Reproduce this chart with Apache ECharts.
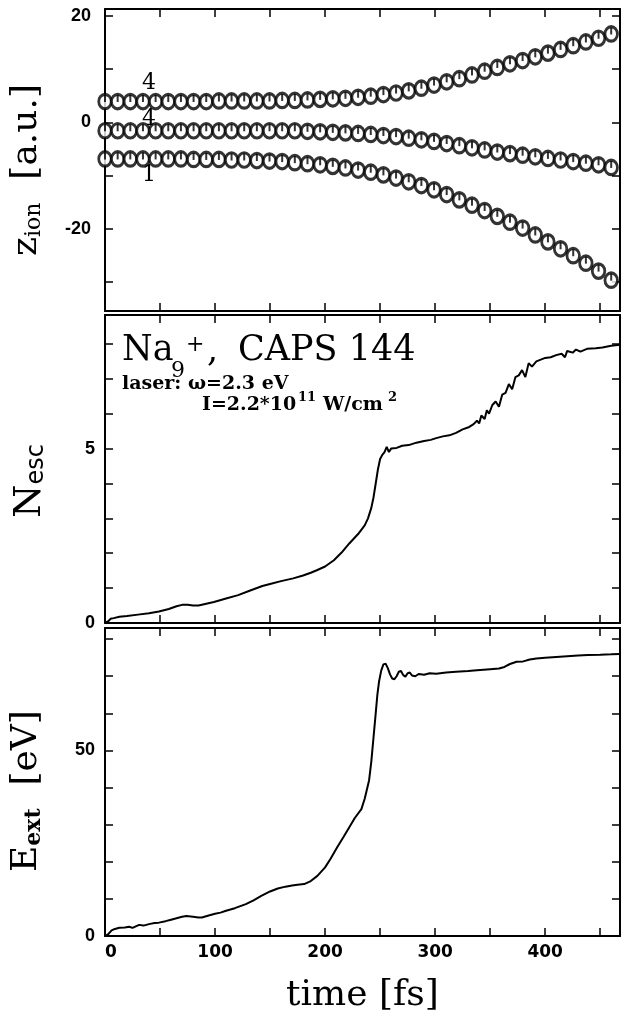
<!DOCTYPE html>
<html><head><meta charset="utf-8">
<script src="https://cdn.jsdelivr.net/npm/echarts@6/dist/echarts.min.js"></script>
<style>html,body{margin:0;padding:0;background:#fff}#c{width:622px;height:1015px}</style>
</head><body><div id="c"></div>
<script>
// ---- data ----
const ionTime = [0, 11.5, 23, 34.5, 46, 57.5, 69, 80.5, 92, 103.5, 115, 126.5, 138, 149.5, 161, 172.5, 184, 195.5, 207, 218.5, 230, 241.5, 253, 264.5, 276, 287.5, 299, 310.5, 322, 333.5, 345, 356.5, 368, 379.5, 391, 402.5, 414, 425.5, 437, 448.5, 460];
const ionUpper = [3.9, 3.9, 3.9, 3.9, 3.9, 3.9, 3.9, 3.9, 3.9, 4.0, 4.0, 4.0, 4.0, 4.0, 4.1, 4.1, 4.2, 4.3, 4.4, 4.5, 4.7, 4.9, 5.2, 5.5, 5.9, 6.4, 7.0, 7.6, 8.2, 8.9, 9.6, 10.3, 11.0, 11.6, 12.3, 13.0, 13.7, 14.4, 15.1, 15.8, 16.6];
const ionMiddle = [-1.6, -1.6, -1.6, -1.6, -1.6, -1.6, -1.6, -1.6, -1.6, -1.6, -1.6, -1.6, -1.6, -1.6, -1.6, -1.6, -1.7, -1.8, -1.9, -2.0, -2.1, -2.3, -2.5, -2.7, -3.0, -3.3, -3.6, -4.0, -4.4, -4.8, -5.2, -5.6, -5.9, -6.2, -6.5, -6.8, -7.1, -7.4, -7.7, -8.0, -8.5];
const ionLower = [-6.9, -6.9, -6.9, -6.9, -6.9, -6.9, -6.9, -7.0, -7.0, -7.0, -7.1, -7.1, -7.2, -7.3, -7.4, -7.6, -7.8, -8.0, -8.3, -8.6, -9.0, -9.4, -9.9, -10.5, -11.2, -11.9, -12.7, -13.6, -14.6, -15.6, -16.6, -17.7, -18.8, -19.9, -21.2, -22.5, -23.8, -25.1, -26.5, -28.0, -29.7];

const escTime = [0, 3, 5, 8, 13, 20, 30, 40, 49, 58, 65, 70, 75, 80, 85, 92, 99, 110, 121, 132, 143, 150, 160, 171, 180, 187, 193, 200, 208, 215, 222, 230, 236, 239, 242, 244, 246, 248, 250, 252, 254, 256, 258, 260, 265, 270, 276, 283, 290, 296, 301, 307, 313, 319, 325, 331, 335, 338, 340, 342, 345, 347, 349, 352, 355, 358, 361, 364, 367, 370, 373, 376, 379, 382, 385, 388, 392, 396, 400, 405, 410, 415, 418, 420, 425, 428, 432, 438, 446, 452, 460, 468];
const escValue = [0, 0.05, 0.12, 0.14, 0.18, 0.2, 0.24, 0.28, 0.33, 0.4, 0.48, 0.52, 0.52, 0.5, 0.5, 0.55, 0.6, 0.7, 0.8, 0.93, 1.06, 1.12, 1.2, 1.28, 1.36, 1.44, 1.52, 1.62, 1.8, 2.02, 2.28, 2.55, 2.8, 3.0, 3.3, 3.6, 4.0, 4.4, 4.7, 4.82, 4.9, 5.05, 4.9, 5.0, 5.02, 5.08, 5.1, 5.17, 5.22, 5.25, 5.3, 5.35, 5.38, 5.45, 5.55, 5.62, 5.7, 5.8, 5.72, 5.95, 5.85, 6.1, 6.0, 6.25, 6.35, 6.2, 6.55, 6.6, 6.85, 6.7, 7.05, 7.1, 7.25, 7.05, 7.45, 7.35, 7.5, 7.55, 7.6, 7.62, 7.68, 7.72, 7.62, 7.8, 7.75, 7.84, 7.78, 7.86, 7.88, 7.9, 7.95, 7.98];

const extTime = [0, 3, 6, 9, 13, 18, 22, 25, 28, 31, 35, 40, 45, 49, 55, 60, 65, 70, 74, 80, 85, 88, 95, 100, 105, 110, 118, 128, 135, 142, 150, 157, 164, 170, 175, 181, 187, 193, 200, 205, 211, 217, 222, 227, 233, 236, 238, 240, 242, 244, 246, 247.5, 249, 251, 253, 255, 257, 259, 261, 263, 265, 267, 269, 271, 273, 275, 277, 279, 282, 285, 290, 295, 301, 310, 319, 330, 338, 350, 358, 363, 368, 374, 380, 386, 392, 400, 410, 420, 430, 439, 450, 460, 468];
const extValue = [0, 0.5, 1.5, 1.9, 2.2, 2.3, 2.5, 2.2, 2.6, 3.0, 2.8, 3.2, 3.5, 3.6, 4.0, 4.4, 4.8, 5.2, 5.4, 5.2, 5.0, 5.0, 5.6, 6.0, 6.3, 6.8, 7.5, 8.6, 9.6, 10.8, 12.0, 12.8, 13.3, 13.6, 13.8, 14.0, 14.8, 16.2, 18.5, 20.8, 23.9, 26.8, 29.3, 31.8, 34.2, 37, 39.5, 42, 47, 53.5, 60, 65, 68.5, 71.5, 73.2, 73.4, 72.2, 70.5, 69.4, 69.2, 70.0, 71.2, 71.4, 70.3, 69.9, 70.8, 71.0, 70.2, 70.0, 70.6, 70.4, 70.8, 70.7, 71.0, 71.2, 71.4, 71.6, 71.9, 72.1, 72.5, 73.3, 73.9, 74.0, 74.5, 74.8, 75.0, 75.2, 75.4, 75.6, 75.7, 75.8, 75.9, 76.0];

const xTickLabels = [0, 100, 200, 300, 400];
const zTicks = [-30, -20, -10, 0, 10, 20];
const zTickLabels = [-20, 0, 20];
const nTicks = [0, 1, 2, 3, 4, 5, 6, 7, 8];
const nTickLabels = [0, 5];
const eTicks = [0, 10, 20, 30, 40, 50, 60, 70, 80];
const eTickLabels = [0, 50];

// ---- chart ----
const zip = (xs, ys) => xs.map((x, i) => [x, ys[i]]);
const L = 105, R = 2;
const grids = [
  {left: L, right: R, top: 9, height: 302},
  {left: L, right: R, top: 315, height: 308},
  {left: L, right: R, top: 628, height: 308}
];
const lineAxis = {show: true, onZero: false, lineStyle: {color: '#000', width: 2}};
const tickStyle = {color: '#000', width: 1.5};
const SERIF = '"DejaVu Serif", serif';

function xAx(gi, pos, withLabels) {
  const a = {
    type: 'value', gridIndex: gi, position: pos, min: 0, max: 468, interval: 50,
    axisLine: lineAxis,
    axisTick: {show: true, inside: true, length: 8, lineStyle: tickStyle},
    axisLabel: {show: false},
    splitLine: {show: false}
  };
  if (withLabels) {
    a.axisLabel = {show: true, customValues: xTickLabels, margin: 8, color: '#000', alignMinLabel: 'left',
      fontFamily: '"DejaVu Sans", sans-serif', fontWeight: 'bold', fontSize: 17};
    a.name = 'time [fs]';
    a.nameLocation = 'middle';
    a.nameGap = 42;
    a.nameTextStyle = {fontFamily: SERIF, fontSize: 36, color: '#000'};
  }
  return a;
}
function yAx(gi, pos, min, max, ticks, labels, margin) {
  const a = {
    type: 'value', gridIndex: gi, position: pos, min: min, max: max,
    axisLine: lineAxis,
    axisTick: {show: true, inside: true, length: 8, customValues: ticks, lineStyle: tickStyle},
    axisLabel: {show: false},
    splitLine: {show: false}
  };
  if (labels) {
    a.axisLabel = {show: true, customValues: labels, margin: margin, color: '#000',
      fontFamily: '"Liberation Sans", sans-serif', fontWeight: 'bold', fontSize: 18};
  }
  return a;
}

const yAxes = [
  yAx(0, 'left', -35.5, 21.3, zTicks, zTickLabels, 14),
  yAx(0, 'right', -35.5, 21.3, zTicks, null),
  yAx(1, 'left', 0, 8.83, nTicks, nTickLabels, 10),
  yAx(1, 'right', 0, 8.83, nTicks, null),
  yAx(2, 'left', 0, 83, eTicks, eTickLabels, 10),
  yAx(2, 'right', 0, 83, eTicks, null)
];
yAxes[0].name = '{m|z}{s|ion}{m|  [a.u.]}';
yAxes[0].nameLocation = 'middle';
yAxes[0].nameGap = 60;
yAxes[0].nameTextStyle = {color: '#000', padding: [0, 20, 0, 0], rich: {
  m: {fontFamily: SERIF, fontSize: 36, lineHeight: 36, verticalAlign: 'top', color: '#000'},
  s: {fontFamily: SERIF, fontSize: 22, lineHeight: 22, verticalAlign: 'bottom', color: '#000'}
}};
yAxes[2].name = '{m|N}{s|esc}';
yAxes[2].nameLocation = 'middle';
yAxes[2].nameGap = 56;
yAxes[2].nameTextStyle = {color: '#000', padding: [0, 24, 0, 0], rich: {
  m: {fontFamily: SERIF, fontSize: 38, lineHeight: 38, verticalAlign: 'top', color: '#000'},
  s: {fontFamily: '"DejaVu Sans", sans-serif', fontSize: 24, lineHeight: 24, verticalAlign: 'bottom', color: '#000'}
}};
yAxes[4].name = '{m|E}{s|ext}{m|  [eV]}';
yAxes[4].nameLocation = 'middle';
yAxes[4].nameGap = 60;
yAxes[4].nameTextStyle = {color: '#000', padding: [0, 18, 0, 0], rich: {
  m: {fontFamily: SERIF, fontSize: 36, lineHeight: 36, verticalAlign: 'top', color: '#000'},
  s: {fontFamily: SERIF, fontSize: 22, fontWeight: 'bold', lineHeight: 22, verticalAlign: 'bottom', color: '#000'}
}};

const ringStyle = {color: '#fff', borderColor: '#000', borderWidth: 3};
function ringSeries(vals) {
  return {type: 'scatter', xAxisIndex: 0, yAxisIndex: 0, data: zip(ionTime, vals),
    symbol: 'circle', symbolSize: [12.5, 14.5], itemStyle: ringStyle, z: 3, silent: true};
}
function stemSeries(vals) {
  return {type: 'scatter', xAxisIndex: 0, yAxisIndex: 0, data: zip(ionTime, vals),
    symbol: 'rect', symbolSize: [2, 7], symbolOffset: [0, -3], itemStyle: {color: '#000'}, z: 4, silent: true};
}

const txt = (x, y, text, font, extra) => Object.assign({type: 'text', x: x, y: y, z: 10,
  style: {text: text, font: font, fill: '#000', align: 'left', verticalAlign: 'middle'}}, extra || {});

const option = {
  backgroundColor: '#ffffff',
  animation: false,
  grid: grids,
  xAxis: [xAx(0, 'bottom'), xAx(0, 'top'), xAx(1, 'bottom'), xAx(1, 'top'), xAx(2, 'bottom', true), xAx(2, 'top')],
  yAxis: yAxes,
  series: [
    ringSeries(ionUpper), stemSeries(ionUpper),
    ringSeries(ionMiddle), stemSeries(ionMiddle),
    ringSeries(ionLower), stemSeries(ionLower),
    {type: 'line', xAxisIndex: 2, yAxisIndex: 2, data: zip(escTime, escValue), showSymbol: false,
      lineStyle: {color: '#000', width: 2}, silent: true},
    {type: 'line', xAxisIndex: 4, yAxisIndex: 4, data: zip(extTime, extValue), showSymbol: false,
      lineStyle: {color: '#000', width: 2}, silent: true}
  ],
  graphic: [
    txt(142, 83, '4', '22px "DejaVu Serif"', {z: 1}),
    txt(142, 119, '4', '22px "DejaVu Serif"', {z: 1}),
    txt(142, 175, '1', '22px "DejaVu Serif"', {z: 1}),
    txt(122, 351, 'Na', '35px "DejaVu Serif"'),
    txt(171, 371, '9', '22px "DejaVu Serif"'),
    txt(186, 345, '+', '22px "DejaVu Serif"'),
    txt(207, 352, ',', '35px "DejaVu Serif"'),
    txt(238, 351, 'CAPS 144', '35px "DejaVu Serif"'),
    txt(122, 384, 'laser: \u03c9=2.3 eV', 'bold 19px "DejaVu Serif"'),
    txt(202, 405, 'I=2.2*10', 'bold 19px "DejaVu Serif"'),
    txt(298, 398, '11', 'bold 13px "DejaVu Serif"'),
    txt(323, 405, 'W/cm', 'bold 19px "DejaVu Serif"'),
    txt(388, 398, '2', 'bold 13px "DejaVu Serif"')
  ]
};
const chart = echarts.init(document.getElementById('c'));
chart.setOption(option);
</script>
</body></html>
